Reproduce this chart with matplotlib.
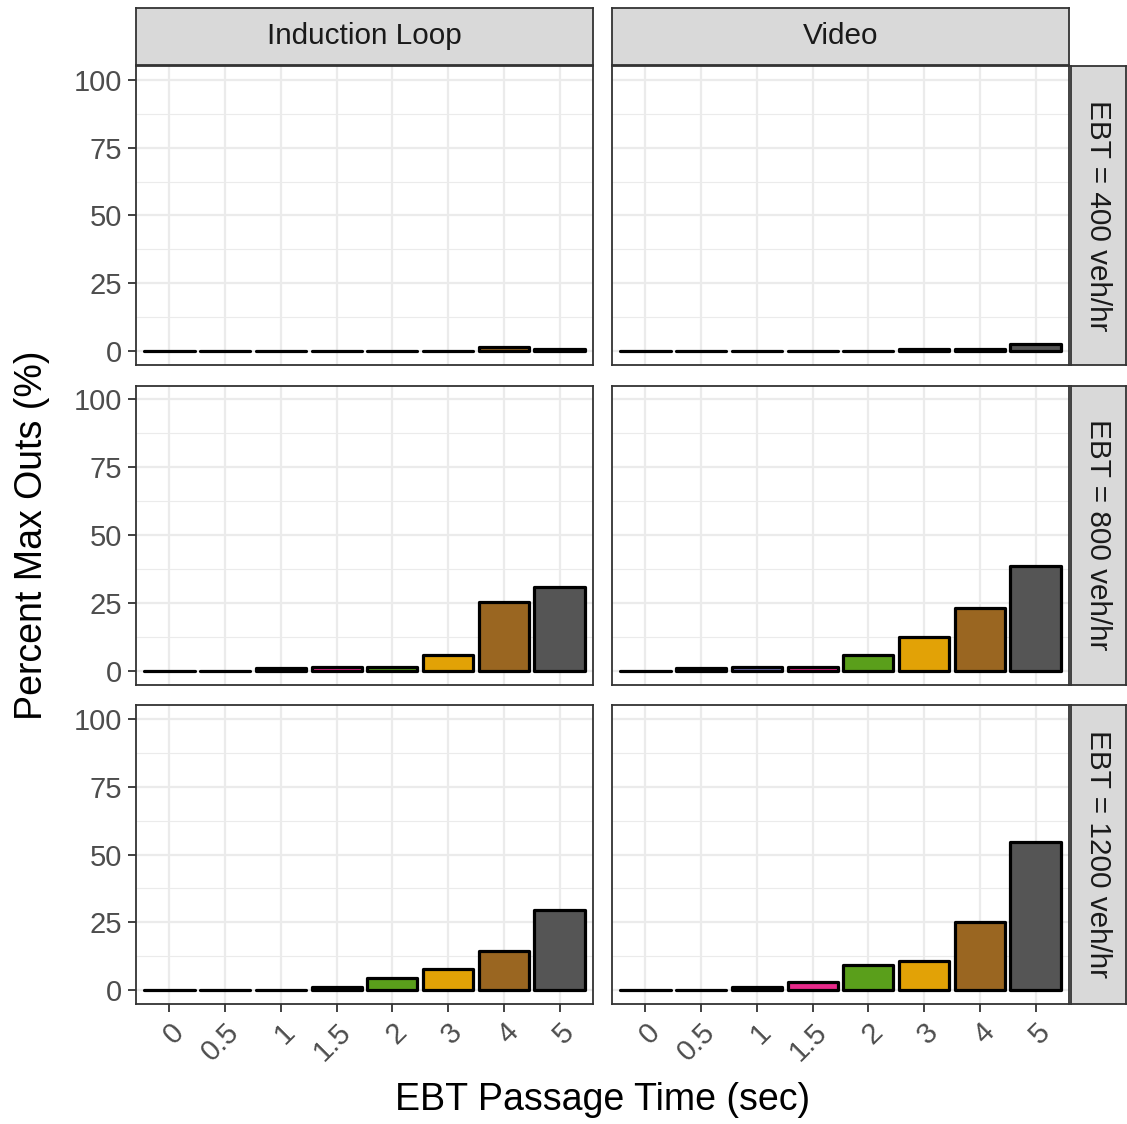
import matplotlib
matplotlib.use("Agg")
import matplotlib.pyplot as plt
import numpy as np

plt.rcParams['font.family'] = ['Liberation Sans', 'DejaVu Sans']

passage = ["0", "0.5", "1", "1.5", "2", "3", "4", "5"]
detectors = ["Induction Loop", "Video"]
volumes = ["EBT = 400 veh/hr", "EBT = 800 veh/hr", "EBT = 1200 veh/hr"]

loop_400 = [0, 0, 0, 0, 0, 0, 1.8, 1.0]
video_400 = [0, 0, 0, 0, 0, 1.0, 1.0, 2.8]
loop_800 = [0, 0, 1.0, 1.5, 1.5, 6.0, 25.5, 31.0]
video_800 = [0, 1.0, 1.5, 1.5, 6.0, 12.5, 23.0, 38.5]
loop_1200 = [0, 0, 0, 1.2, 4.5, 8.0, 14.5, 29.5]
video_1200 = [0, 0, 1.2, 3.0, 9.5, 11.0, 25.0, 54.5]

values = [[loop_400, video_400], [loop_800, video_800], [loop_1200, video_1200]]

palette = ['#1B9E77', '#D95F02', '#7570B3', '#E7298A', '#5A9F1B', '#E2A206', '#9A6621', '#555555']

W, H = 1127, 1124
fig = plt.figure(figsize=(W / 100, H / 100), dpi=100)

def ax_rect(x0, y0, x1, y1):
    return [x0 / W, 1 - y1 / H, (x1 - x0) / W, (y1 - y0) / H]

col_x = [(136, 593), (612, 1069)]
row_y = [(66, 365), (385.5, 684.5), (705, 1004)]
border = '#333333'
grid_c = '#EBEBEB'
x = np.arange(len(passage))

for r in range(3):
    for c in range(2):
        ax = fig.add_axes(ax_rect(col_x[c][0], row_y[r][0], col_x[c][1], row_y[r][1]))
        ax.set_xlim(-0.6, len(passage) - 0.4)
        ax.set_ylim(-5, 105)
        ax.set_yticks([0, 25, 50, 75, 100])
        ax.set_yticks([12.5, 37.5, 62.5, 87.5], minor=True)
        ax.set_xticks(x)
        ax.set_axisbelow(True)
        ax.grid(True, which='major', color=grid_c, lw=1.6)
        ax.grid(True, which='minor', axis='y', color=grid_c, lw=0.8)
        ax.bar(x, values[r][c], width=0.9, color=palette, edgecolor='black',
               linewidth=2.3, joinstyle='round', capstyle='round')
        for s in ax.spines.values():
            s.set_color(border)
            s.set_linewidth(1.3)
        ax.tick_params(which='major', length=6, width=1.3, color=border,
                       labelsize=21, labelcolor='#4D4D4D', pad=4)
        ax.tick_params(which='minor', length=0)
        if c == 0:
            ax.set_yticklabels(['0', '25', '50', '75', '100'])
        else:
            ax.tick_params(axis='y', left=False, labelleft=False)
        if r == 2:
            ax.set_xticklabels(passage, rotation=45, ha='right', va='top',
                               rotation_mode='anchor')
        else:
            ax.tick_params(axis='x', bottom=False, labelbottom=False)

# column strips
for c in range(2):
    sax = fig.add_axes(ax_rect(col_x[c][0], 8, col_x[c][1], 65))
    sax.set_facecolor('#D9D9D9')
    sax.set_xticks([]); sax.set_yticks([])
    for s in sax.spines.values():
        s.set_color(border); s.set_linewidth(1.3)
    sax.text(0.5, 0.5, detectors[c], ha='center', va='center', fontsize=21.4,
             color='#1A1A1A', transform=sax.transAxes)

# row strips
for r in range(3):
    sax = fig.add_axes(ax_rect(1071, row_y[r][0], 1126, row_y[r][1]))
    sax.set_facecolor('#D9D9D9')
    sax.set_xticks([]); sax.set_yticks([])
    for s in sax.spines.values():
        s.set_color(border); s.set_linewidth(1.3)
    sax.text(0.5, 0.5, volumes[r], ha='center', va='center', fontsize=21.4,
             color='#1A1A1A', rotation=-90, transform=sax.transAxes)

fig.text(603 / W, 1 - 1100 / H, "EBT Passage Time (sec)", ha='center', va='center',
         fontsize=27, color='black')
fig.text(32 / W, 1 - 535 / H, "Percent Max Outs (%)", ha='center', va='center',
         fontsize=27, color='black', rotation=90)

fig.savefig("out.png", dpi=100, facecolor='white')
